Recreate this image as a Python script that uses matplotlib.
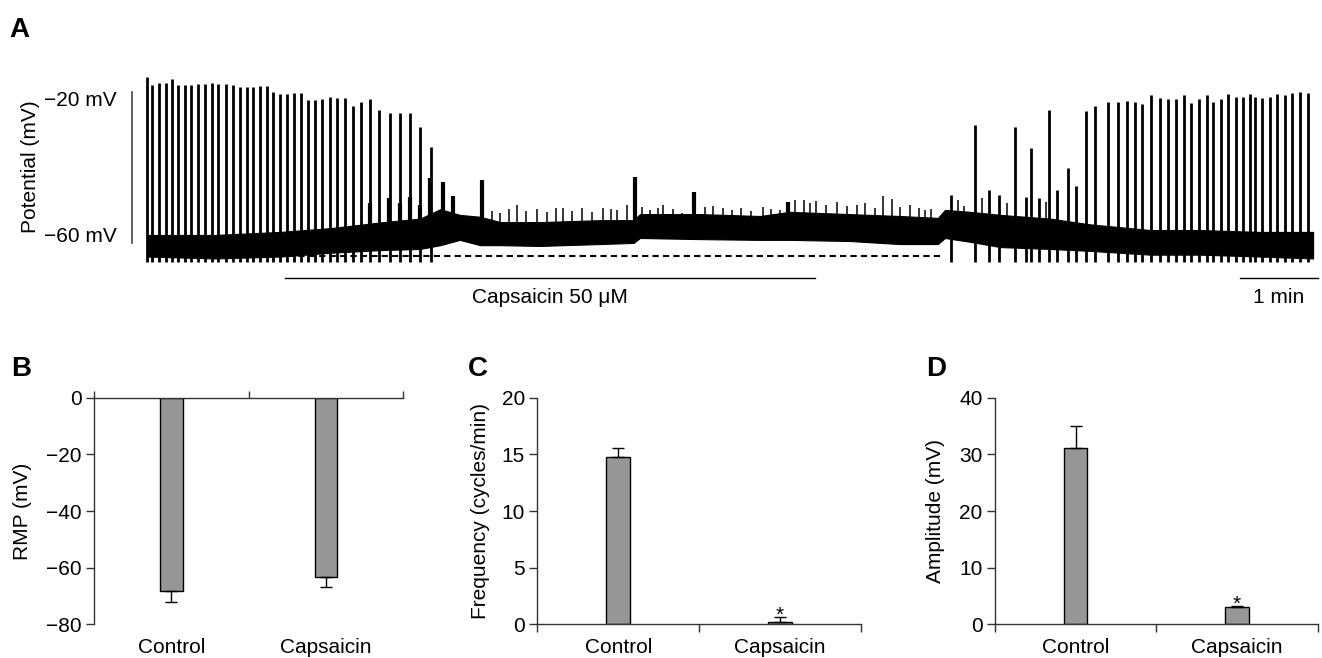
import numpy as np
import matplotlib
matplotlib.use("Agg")
import matplotlib.pyplot as plt

plt.rcParams['font.family'] = ['Liberation Sans', 'DejaVu Sans']
plt.rcParams['font.size'] = 15

# ---- panel A: recording (time in min, potential in mV) ----
spike_t = [0.00, 0.07, 0.15, 0.24, 0.32, 0.40, 0.49, 0.57, 0.66, 0.74, 0.83, 0.91,
           1.01, 1.10, 1.19, 1.28, 1.36, 1.45, 1.54, 1.62, 1.71, 1.80, 1.88, 1.98,
           2.07, 2.15, 2.25, 2.35, 2.44, 2.54, 2.64, 2.75, 2.86, 2.98, 3.11, 3.24,
           3.37, 3.50, 3.64,
           10.31, 10.62, 10.79, 10.92, 11.13, 11.27, 11.33, 11.44, 11.56, 11.67,
           11.81, 11.91, 12.04, 12.15,
           12.32, 12.45, 12.56, 12.67, 12.76, 12.87, 12.99, 13.09, 13.19, 13.30,
           13.39, 13.49, 13.59, 13.67, 13.77, 13.86, 13.96, 14.05, 14.14, 14.21,
           14.30, 14.40, 14.49, 14.59, 14.68, 14.78, 14.88]
spike_peak = [-16.0, -18.2, -17.8, -17.8, -16.7, -18.2, -18.2, -18.2, -18.0, -18.0, -17.8, -18.0,
              -18.0, -18.2, -18.7, -18.7, -18.7, -18.5, -18.5, -20.0, -20.6, -20.6, -20.4, -20.4,
              -22.2, -22.2, -22.0, -21.3, -21.6, -21.7, -23.8, -22.6, -22.0, -24.8, -25.7, -25.7,
              -25.7, -29.2, -34.5,
              -47.3, -28.8, -45.9, -47.3, -29.3, -47.8, -34.9, -48.0, -24.8, -45.9,
              -40.1, -44.9, -25.1, -23.8,
              -22.6, -22.6, -22.4, -22.6, -23.2, -20.9, -21.6, -21.9, -21.9, -20.9,
              -22.9, -22.0, -20.9, -22.6, -21.9, -20.7, -21.3, -21.5, -20.6, -21.3,
              -21.6, -21.3, -20.7, -20.9, -20.3, -20.0, -20.4]
spike_floor = -65.0

# slow depolarising humps (after-potentials and events during capsaicin)
hump_t = [2.86, 3.10, 3.24, 3.37, 3.50, 3.63, 3.79, 3.92, 4.29, 6.26, 7.01, 8.22]
hump_peak = [-49.4, -48.0, -49.4, -47.8, -49.9, -42.8, -43.7, -47.5, -43.3, -42.4, -46.4, -49.1]

# small noise transients
noise_t = [4.42, 4.53, 4.64, 4.74, 4.86, 5.00, 5.13, 5.24, 5.33, 5.45, 5.58, 5.71, 5.85,
           5.95, 6.03, 6.15, 6.35, 6.45, 6.55, 6.62, 6.74, 6.86, 7.15, 7.26, 7.38, 7.50,
           7.62, 7.75, 7.90, 8.00, 8.12, 8.31, 8.42, 8.50, 8.58, 8.70, 8.85, 8.98, 9.10,
           9.21, 9.33, 9.44, 9.55, 9.66, 9.78, 9.90, 9.97, 10.05, 10.40, 10.48, 10.70,
           11.02, 11.52]
noise_top = [-51.5, -52.0, -51.0, -49.9, -51.4, -51.0, -51.7, -50.8, -50.7, -51.5, -50.7,
             -51.7, -50.7, -51.0, -51.2, -50.0, -50.4, -51.2, -50.6, -49.9, -51.0, -52.0,
             -50.5, -50.2, -50.7, -51.3, -50.8, -51.5, -50.4, -51.0, -51.2, -48.6, -48.6,
             -49.5, -48.8, -50.0, -49.1, -50.2, -49.8, -49.4, -50.7, -47.5, -48.3, -50.5,
             -49.9, -50.6, -51.2, -51.0, -48.6, -50.2, -48.0, -49.5, -49.0]

# envelope of the noisy baseline
env_t = [0.00, 0.87, 1.71, 2.35, 2.99, 3.50, 3.76, 4.01, 4.27, 4.53, 5.04, 5.81, 6.24, 6.32,
         7.09, 7.86, 8.24, 9.01, 9.65, 10.14, 10.23, 10.55, 10.94, 11.58, 12.09, 12.86,
         13.50, 14.27, 14.95]
env_hi = [-57.8, -57.8, -57.0, -56.0, -54.5, -53.5, -51.0, -52.5, -53.0, -54.4, -54.4, -53.9,
          -53.9, -52.3, -52.3, -52.8, -51.7, -52.3, -52.8, -53.3, -51.2, -51.7, -52.5, -53.5,
          -55.0, -56.5, -56.5, -57.0, -57.0]
env_lo = [-63.5, -64.0, -63.5, -62.5, -61.8, -61.5, -60.5, -59.1, -60.5, -60.5, -60.7, -60.2,
          -59.9, -58.6, -58.9, -59.1, -59.1, -59.4, -60.2, -60.2, -58.6, -59.6, -61.0, -61.5,
          -62.0, -63.0, -63.0, -63.5, -64.0]

rest_level = -63.4
rest_span = [0.87, 10.17]
drug_span = [1.77, 8.56]

# ---- panels B-D ----
groups = ['Control', 'Capsaicin']
rmp = [-68.2, -63.4]
rmp_err = [4.1, 3.5]
freq = [14.8, 0.18]
freq_err = [0.8, 0.5]
amp = [31.2, 3.0]
amp_err = [3.8, 0.3]

fig = plt.figure(figsize=(13.22, 6.58), dpi=100)

# panel A
axA = fig.add_axes([0.0756, 0.5289, 0.9244, 0.3799])
axA.set_xlim(-0.603, 15.064)
axA.set_ylim(-77.6, -11.64)
axA.axis('off')
axA.fill_between(env_t, env_lo, env_hi, color='k', lw=0.8)
axA.vlines(spike_t, spike_floor, spike_peak, color='k', lw=2.0)
axA.vlines(hump_t, -58, hump_peak, color='k', lw=3.0)
axA.vlines(noise_t, -55, noise_top, color='k', lw=1.1)
axA.plot(rest_span, [rest_level, rest_level], color='k', lw=1.5, ls=(0, (3, 2)))
axA.plot(drug_span, [-69.2, -69.2], color='k', lw=1.0)
axA.text(np.mean(drug_span), -74.4, 'Capsaicin 50 \u03bcM', ha='center', va='center')
axA.plot([14.01, 15.01], [-69.2, -69.2], color='k', lw=1.0)
axA.text(14.51, -74.4, '1 min', ha='center', va='center')
axA.plot([-0.19, -0.19], [-20, -60], color='#444444', lw=1.2)
axA.text(-0.385, -22.2, '\u221220 mV', ha='right', va='center')
axA.text(-0.385, -58.3, '\u221260 mV', ha='right', va='center')
fig.text(30 / 1322, 1 - 167 / 658, 'Potential (mV)', rotation=90, ha='center', va='center')


def bar_panel(rect, vals, errs, ylim, yticks, ylabel, label_x, axis_on_top=False, stars=False):
    ax = fig.add_axes(rect)
    x = np.arange(len(groups))
    lower = [e if v < 0 else 0 for v, e in zip(vals, errs)]
    upper = [0 if v < 0 else e for v, e in zip(vals, errs)]
    ax.bar(x, vals, width=0.145, color='#969696', edgecolor='k', lw=1.0,
           yerr=[lower, upper], capsize=4, error_kw=dict(elinewidth=1.0, capthick=1.0))
    ax.set_xlim(-0.5, 1.5)
    ax.set_ylim(*ylim)
    ax.set_yticks(yticks)
    ax.set_yticklabels([f'{t}'.replace('-', '\u2212') for t in yticks])
    ax.set_xticks(x)
    ax.set_xticklabels(groups)
    ax.set_xticks([-0.5, 0.5, 1.5], minor=True)
    ax.spines['right'].set_visible(False)
    for s in ['left', 'top', 'bottom']:
        ax.spines[s].set_color('#333333')
        ax.spines[s].set_linewidth(1.0)
    if axis_on_top:
        ax.spines['bottom'].set_visible(False)
        ax.tick_params(axis='x', which='minor', top=True, bottom=False, length=5,
                       width=1.0, color='#333333')
    else:
        ax.spines['top'].set_visible(False)
        ax.tick_params(axis='x', which='minor', top=False, bottom=True, length=6,
                       width=1.0, color='#333333', direction='out')
    ax.tick_params(axis='x', which='major', top=False, bottom=False, labelbottom=True,
                   labeltop=False, pad=6)
    ax.tick_params(axis='y', length=6, width=1.0, color='#333333', pad=3)
    ax.set_ylabel(ylabel)
    ax.yaxis.set_label_coords(label_x, 0.5)
    if stars:
        ax.annotate('*', xy=(1, vals[1] + errs[1]), xytext=(0, -3), textcoords='offset points',
                    ha='center', va='baseline', fontsize=15)
    return ax


bar_panel([0.0713, 0.0512, 0.2335, 0.3444], rmp, rmp_err, (-80, 0),
          [0, -20, -40, -60, -80], 'RMP (mV)', -0.202, axis_on_top=True)
bar_panel([0.4064, 0.0512, 0.2449, 0.3444], freq, freq_err, (0, 20),
          [0, 5, 10, 15, 20], 'Frequency (cycles/min)', -0.146, stars=True)
bar_panel([0.7527, 0.0512, 0.2441, 0.3444], amp, amp_err, (0, 40),
          [0, 10, 20, 30, 40], 'Amplitude (mV)', -0.155, stars=True)

for letter, px, py in [('A', 19, 30), ('B', 21, 369), ('C', 478, 369), ('D', 936, 369)]:
    fig.text(px / 1322, 1 - py / 658, letter, fontsize=20, fontweight='bold',
             ha='center', va='center')

fig.savefig('out.png', dpi=100)
